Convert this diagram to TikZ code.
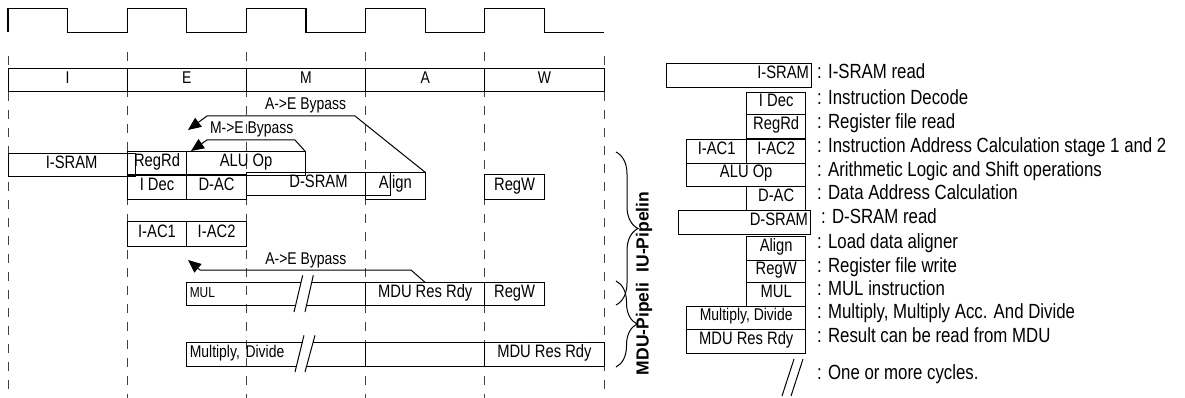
\documentclass[tikz,border=0pt]{standalone}
\usepackage{fontspec}
\setmainfont{Liberation Sans}[FakeStretch=0.82]
\newfontfamily\pipefont{Liberation Sans}
\usetikzlibrary{arrows.meta, decorations.pathreplacing}

\tikzset{
  stage/.style={draw, line width=1pt, minimum width=119.2pt, minimum height=23.4pt,
    inner sep=0pt, outer sep=0pt, anchor=north west,
    font=\fontsize{17}{19}\selectfont, text height=0.72em, text depth=0.1em},
  unit/.style={draw, line width=1pt, minimum height=23.4pt, inner sep=0pt, outer sep=0pt,
    font=\fontsize{18}{20}\selectfont, text height=0.72em, text depth=0.12em},
  leftunit/.style={unit, inner xsep=3pt, align=left},
  rightunit/.style={unit, inner xsep=2pt, align=right},
  bypass/.style={line width=1pt, -{Triangle[length=13pt, width=11pt]}},
  bypasslabel/.style={inner sep=0pt, font=\fontsize{17}{19}\selectfont},
  note/.style={anchor=west, inner sep=0pt, font=\fontsize{20.5}{22}\selectfont,
    text height=0.72em, text depth=0pt},
  pipelabel/.style={rotate=90, inner sep=0pt, font=\pipefont\bfseries\fontsize{17.5}{19}\selectfont},
  grid/.style={line width=.8pt, dash pattern=on 9pt off 9pt, black!75},
  cut/.style={line width=1pt}
}

\begin{document}
\begin{tikzpicture}[x=1pt, y=-1pt]
\useasboundingbox (0,0) rectangle (1185,398);

\draw[line width=1.3pt] (8,32.3) -- (8,8.3) -- (67.6,8.3) -- (67.6,32.3) -- (127.2,32.3)
  -- (127.2,8.3) -- (186.8,8.3) -- (186.8,32.3) -- (246.4,32.3) -- (246.4,8.3)
  -- (306,8.3) -- (306,32.3) -- (365.6,32.3) -- (365.6,8.3) -- (425.2,8.3)
  -- (425.2,32.3) -- (484.8,32.3) -- (484.8,8.3) -- (544.4,8.3) -- (544.4,32.3) -- (604,32.3);

\draw[grid] (8,56) -- (8,398);
\draw[grid] (127.2,52) -- (127.2,398);
\draw[grid] (246.4,52) -- (246.4,398);
\draw[grid] (365.6,52) -- (365.6,398);
\draw[grid] (484.8,52) -- (484.8,398);
\draw[grid] (604,56) -- (604,398);

\node[stage] (stI) at (8,68.3) {I};
\node[stage] (stE) at (127.2,68.3) {E};
\node[stage] (stM) at (246.4,68.3) {M};
\node[stage] (stA) at (365.6,68.3) {A};
\node[stage] (stW) at (484.8,68.3) {W};

\node[unit, anchor=north west, minimum width=127.2pt] (isram) at (8,153.3) {I-SRAM};
\node[unit, anchor=north west, minimum width=59.6pt] (regrd) at (127.2,151.7) {RegRd};
\node[unit, anchor=north west, minimum width=118.7pt] (alu) at (186.8,151.7) {ALU Op};
\node[unit, anchor=north west, minimum width=59.6pt, minimum height=24pt] (idec) at (127.2,175) {I Dec};
\node[unit, anchor=north west, minimum width=59.6pt, minimum height=24pt] (dac) at (186.8,175) {D-AC};
\node[unit, anchor=north west, minimum width=144.1pt, minimum height=23.7pt] (dsram) at (246.4,172.3) {D-SRAM};
\node[unit, anchor=north west, minimum width=59.6pt, minimum height=26.7pt] (align) at (365.6,172.3) {Align};
\node[unit, anchor=north west, minimum width=59.6pt, minimum height=24pt] (regw) at (484.8,175) {RegW};

\node[unit, anchor=north west, minimum width=59.6pt, minimum height=25pt] (iac1) at (127.2,221.7) {I-AC1};
\node[unit, anchor=north west, minimum width=59.6pt, minimum height=25pt] (iac2) at (186.8,221.7) {I-AC2};

\node[leftunit, anchor=north west, text width=172.8pt, font=\fontsize{14.5}{16}\selectfont] (mul) at (186.8,282.5) {MUL};
\node[unit, anchor=north west, minimum width=119.2pt] (mdures) at (365.6,282.5) {MDU Res Rdy};
\node[unit, anchor=north west, minimum width=59.6pt] (mulregw) at (484.8,282.5) {RegW};

\node[leftunit, anchor=north west, text width=172.8pt, minimum height=24pt, font=\fontsize{17}{19}\selectfont] (muldiv) at (186.8,342) {Multiply, Divide};
\node[unit, anchor=north west, minimum width=119.2pt, minimum height=24pt] (mdugap) at (365.6,342) {};
\node[unit, anchor=north west, minimum width=119.2pt, minimum height=24pt] (mdurdy) at (484.8,342) {MDU Res Rdy};

\coordinate (aeTip) at (188,130);
\coordinate (meTip) at (191,151);
\coordinate (aeTipLow) at (188,260);

\draw[bypass] (align.north east) -- (355,116) -- (207,116) -- (aeTip);
\draw[bypass] (alu.north east) -- (295,140) -- (207,140) -- (meTip);
\draw[bypass] (mdures.north) -- (411,270) -- (200,270) -- (aeTipLow);
\node[bypasslabel] (aeLbl) at (305.5,105) {A->E Bypass};
\node[bypasslabel] (meLbl) at (251.7,129.3) {M->E Bypass};
\node[bypasslabel] (aeLowLbl) at (305.8,260) {A->E Bypass};

\fill[white] (294,312) -- (302.7,275.3) -- (313.3,275.3) -- (305,312) -- cycle;
\draw[cut] (294,312) -- (302.7,275.3);
\draw[cut] (305,312) -- (313.3,275.3);
\fill[white] (295,372) -- (304,335.3) -- (315,335.3) -- (305,372) -- cycle;
\draw[cut] (295,372) -- (304,335.3);
\draw[cut] (305,372) -- (315,335.3);

\draw[line width=1pt, decorate, decoration={brace, amplitude=22pt}] (616,152) -- (616,305);
\draw[line width=1pt, decorate, decoration={brace, amplitude=21pt}] (616,281) -- (616,367);
\node[pipelabel] (iuLbl) at (644,232) {IU-Pipelin};
\node[pipelabel] (mduLbl) at (644,329) {MDU-Pipeli};

\node[rightunit, anchor=north east, text width=140.3pt, minimum height=23.3pt] (lgIsram) at (811,64) {I-SRAM};
\node[unit, anchor=north east, minimum width=59pt, minimum height=22.7pt] (lgIdec) at (805.7,92.3) {I Dec};
\node[unit, anchor=north east, minimum width=59pt, minimum height=23.3pt] (lgRegrd) at (805.7,115) {RegRd};
\node[unit, anchor=north east, minimum width=59pt, minimum height=23.3pt] (lgIac2) at (805.7,140) {I-AC2};
\node[unit, anchor=north east, minimum width=60pt, minimum height=23.3pt] (lgIac1) at (746.7,140) {I-AC1};
\node[unit, anchor=north east, minimum width=119pt, minimum height=23.4pt] (lgAlu) at (805.7,163.3) {ALU Op};
\node[unit, anchor=north east, minimum width=59pt, minimum height=23.3pt] (lgDac) at (805.7,186.7) {D-AC};
\node[rightunit, anchor=north east, text width=127.7pt, minimum height=23.3pt] (lgDsram) at (810,210.7) {D-SRAM};
\node[unit, anchor=north east, minimum width=59pt, minimum height=23.3pt] (lgAlign) at (805.7,236.7) {Align};
\node[unit, anchor=north east, minimum width=59pt, minimum height=22.7pt] (lgRegw) at (805.7,260) {RegW};
\node[unit, anchor=north east, minimum width=59pt, minimum height=23.3pt] (lgMul) at (805.7,282.7) {MUL};
\node[unit, anchor=north east, minimum width=119pt, minimum height=23.3pt, font=\fontsize{17}{19}\selectfont] (lgMuldiv) at (805.7,306) {Multiply, Divide};
\node[unit, anchor=north east, minimum width=119pt, minimum height=24pt] (lgMdurdy) at (805.7,329.3) {MDU Res Rdy};
\draw[cut] (782,396) -- (794,359);
\draw[cut] (791,396) -- (803,359);

\node[note] (ntIsram) at (817,74.5) {: I-SRAM read};
\node[note] (ntIdec) at (817,101) {: Instruction Decode};
\node[note] (ntRegrd) at (817,124.5) {: Register file read};
\node[note] (ntIac) at (817,149) {: Instruction Address Calculation stage 1 and 2};
\node[note] (ntAlu) at (817,172.5) {: Arithmetic Logic and Shift operations};
\node[note] (ntDac) at (817,196) {: Data Address Calculation};
\node[note] (ntDsram) at (821,219.5) {: D-SRAM read};
\node[note] (ntAlign) at (817,245) {: Load data aligner};
\node[note] (ntRegw) at (817,268.5) {: Register file write};
\node[note] (ntMul) at (817,291.5) {: MUL instruction};
\node[note] (ntMuldiv) at (817,315) {: Multiply, Multiply Acc. And Divide};
\node[note] (ntMdurdy) at (817,339) {: Result can be read from MDU};
\node[note] (ntCut) at (817,376) {: One or more cycles.};
\end{tikzpicture}
\end{document}
